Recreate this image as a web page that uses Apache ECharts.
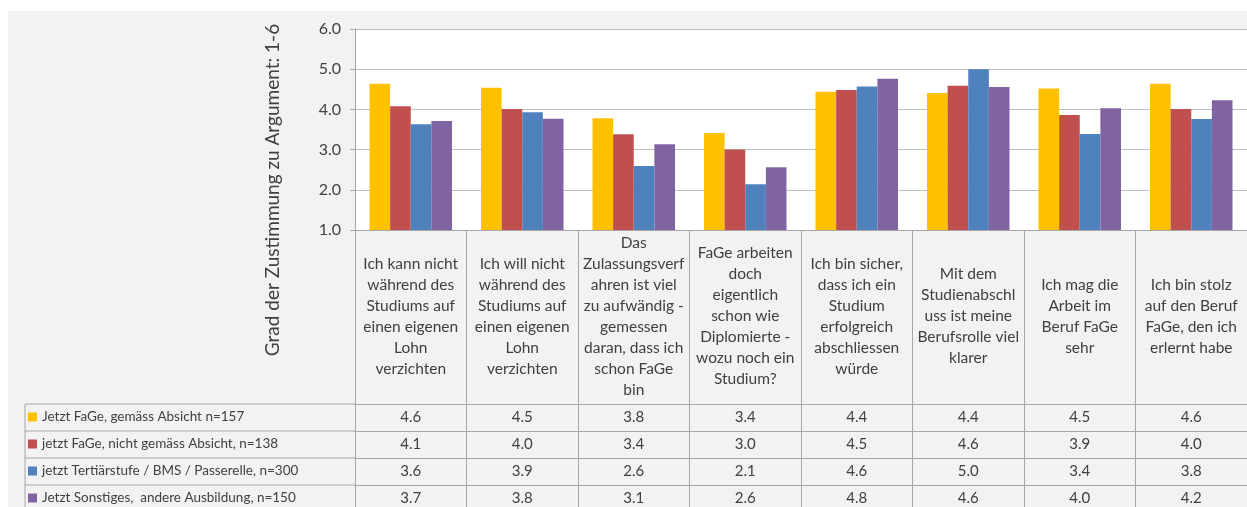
<!DOCTYPE html>
<html>
<head>
<meta charset="utf-8">
<script src="https://cdn.jsdelivr.net/npm/echarts@6/dist/echarts.min.js"></script>
<style>
  html, body { margin: 0; padding: 0; background: #ffffff; }
  #backdrop { position: absolute; left: 8px; top: 11px; width: 1239px; height: 496px; background: #f2f2f2; }
  #chart { position: absolute; left: 0; top: 0; width: 1247px; height: 507px; }
</style>
</head>
<body>
<div id="backdrop"></div>
<div id="chart"></div>
<script>
// statements (category labels, line breaks as in the source sheet)
const categories = [
  'Ich kann nicht\nwährend des\nStudiums auf\neinen eigenen\nLohn\nverzichten',
  'Ich will nicht\nwährend des\nStudiums auf\neinen eigenen\nLohn\nverzichten',
  'Das\nZulassungsverf\nahren ist viel\nzu aufwändig -\ngemessen\ndaran, dass ich\nschon FaGe\nbin',
  'FaGe arbeiten\ndoch\neigentlich\nschon wie\nDiplomierte -\nwozu noch ein\nStudium?',
  'Ich bin sicher,\ndass ich ein\nStudium\nerfolgreich\nabschliessen\nwürde',
  'Mit dem\nStudienabschl\nuss ist meine\nBerufsrolle viel\nklarer',
  'Ich mag die\nArbeit im\nBeruf FaGe\nsehr',
  'Ich bin stolz\nauf den Beruf\nFaGe, den ich\nerlernt habe'
];

const seriesNames = [
  'Jetzt FaGe, gemäss Absicht n=157',
  'jetzt FaGe, nicht gemäss Absicht, n=138',
  'jetzt Tertiärstufe / BMS / Passerelle, n=300',
  'Jetzt Sonstiges,  andere Ausbildung, n=150'
];

const fageAbsicht = [4.64, 4.54, 3.78, 3.41, 4.44, 4.41, 4.52, 4.64];
const fageNichtAbsicht = [4.08, 4.01, 3.38, 3.00, 4.48, 4.59, 3.86, 4.01];
const tertiaer = [3.63, 3.93, 2.59, 2.14, 4.57, 5.00, 3.39, 3.76];
const sonstiges = [3.71, 3.77, 3.13, 2.56, 4.76, 4.56, 4.03, 4.23];

const yTicks = [1, 2, 3, 4, 5, 6];

const colors = ['#ffc000', '#c0504d', '#4f81bd', '#8064a2'];
const allSeries = [fageAbsicht, fageNichtAbsicht, tertiaer, sonstiges];

const FONT = 'Lato';
const TXT = '#404040';
const LINE = '#a6a6a6';

const gridTop = 29;
const gridLeft = 355;
const gridHeight = 201;
const catWidth = 111.75;
const headerHeight = 174;
const rowHeight = 27;

const chart = echarts.init(document.getElementById('chart'), null, { renderer: 'canvas' });

// table rows below the plot: one extra x axis per series
const tableAxes = allSeries.map((values, i) => ({
  type: 'category',
  gridIndex: 0,
  position: 'bottom',
  offset: headerHeight + rowHeight * i,
  data: categories,
  axisLine: { show: true, lineStyle: { color: LINE, width: 1 } },
  axisTick: { show: true, length: rowHeight, interval: 0, lineStyle: { color: LINE } },
  axisLabel: {
    interval: 0,
    margin: 13,
    verticalAlign: 'middle',
    color: TXT,
    fontFamily: FONT,
    fontSize: 15,
    formatter: (v, idx) => values[idx].toFixed(1)
  }
}));

const legendLines = [0, 1, 2, 3].map((i) => ({
  type: 'line',
  shape: { x1: 25, y1: gridTop + gridHeight + headerHeight + rowHeight * i, x2: gridLeft, y2: gridTop + gridHeight + headerHeight + rowHeight * i },
  style: { stroke: LINE, lineWidth: 1 },
  silent: true
}));

chart.setOption({
  animation: false,
  color: colors,
  grid: {
    left: gridLeft,
    top: gridTop,
    width: catWidth * categories.length,
    height: gridHeight,
    show: true,
    backgroundColor: '#ffffff',
    borderWidth: 0,
    containLabel: false
  },
  legend: {
    orient: 'vertical',
    left: 28,
    top: 409,
    padding: 0,
    itemGap: 11,
    itemWidth: 9,
    itemHeight: 9,
    icon: 'rect',
    selectedMode: false,
    textStyle: { color: TXT, fontFamily: FONT, fontSize: 13.5, lineHeight: 16 },
    data: seriesNames
  },
  xAxis: [
    {
      type: 'category',
      gridIndex: 0,
      data: categories,
      axisLine: { show: true, lineStyle: { color: LINE } },
      axisTick: { show: true, length: headerHeight, interval: 0, lineStyle: { color: LINE } },
      axisLabel: {
        interval: 0,
        margin: 86,
        verticalAlign: 'middle',
        align: 'center',
        color: TXT,
        fontFamily: FONT,
        fontSize: 15.5,
        lineHeight: 21
      }
    },
    ...tableAxes
  ],
  yAxis: {
    type: 'value',
    min: yTicks[0],
    max: yTicks[yTicks.length - 1],
    interval: 1,
    axisLine: { show: true, lineStyle: { color: LINE } },
    axisTick: { show: true, length: 5, lineStyle: { color: LINE } },
    axisLabel: {
      margin: 14,
      color: TXT,
      fontFamily: FONT,
      fontSize: 16,
      formatter: (v) => v.toFixed(1)
    },
    splitLine: { show: true, lineStyle: { color: '#bfbfbf', width: 1 } }
  },
  graphic: [
    {
      type: 'text',
      x: 273,
      y: 190,
      rotation: Math.PI / 2,
      silent: true,
      style: {
        text: 'Grad der Zustimmung zu Argument: 1-6',
        fill: TXT,
        font: '19px Lato',
        textAlign: 'center',
        textVerticalAlign: 'middle'
      }
    },
    ...legendLines,
    {
      type: 'line',
      shape: { x1: 25, y1: gridTop + gridHeight + headerHeight, x2: 25, y2: 507 },
      style: { stroke: LINE, lineWidth: 1 },
      silent: true
    }
  ],
  series: allSeries.map((values, i) => ({
    name: seriesNames[i],
    type: 'bar',
    xAxisIndex: 0,
    yAxisIndex: 0,
    data: values,
    barGap: '0%',
    barCategoryGap: '26%',
    itemStyle: { color: colors[i] }
  }))
});
</script>
</body>
</html>
